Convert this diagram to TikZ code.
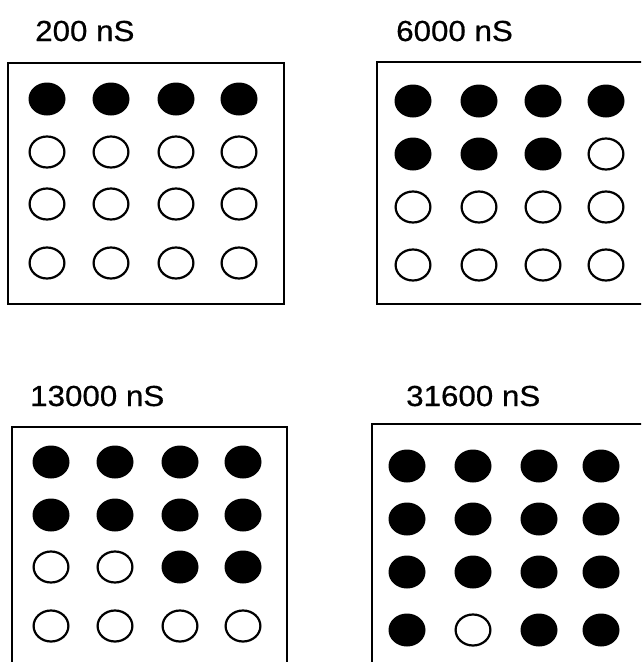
\documentclass[tikz,border=0pt]{standalone}
\usepackage{fontspec}
\setmainfont{Liberation Sans}
\newfontfamily\lblfont[FakeStretch=1.08,FakeBold=0.6]{Liberation Sans}
\usetikzlibrary{shapes.geometric}
\tikzset{
  full/.style={ellipse, fill=black, draw=none, minimum width=37pt, minimum height=33pt, inner sep=0pt},
  empty/.style={ellipse, draw=black, line width=2.2pt, fill=white, minimum width=34.8pt, minimum height=31pt, inner sep=0pt},
  panel/.style={draw=black, line width=2pt},
  lbl/.style={anchor=base west, inner sep=0pt, font=\lblfont\fontsize{29}{29}\selectfont}
}
\begin{document}
\begin{tikzpicture}[x=1pt,y=-1pt]
\useasboundingbox (0,0) rectangle (641,662);
\clip (0,0) rectangle (641,662);
\fill[white] (0,0) rectangle (641,662);

% panel 1
\node[lbl] (l1) at (35,41) {200 nS};
\draw[panel] (8,63) rectangle (284,304);
\foreach \xx/\t [count=\c] in {47/full,111/full,176/full,239/full} \node[\t] (a1\c) at (\xx,99) {};
\foreach \xx/\t [count=\c] in {47/empty,111/empty,176/empty,239/empty} \node[\t] (a2\c) at (\xx,152) {};
\foreach \xx/\t [count=\c] in {47/empty,111/empty,176/empty,239/empty} \node[\t] (a3\c) at (\xx,204) {};
\foreach \xx/\t [count=\c] in {47/empty,111/empty,176/empty,239/empty} \node[\t] (a4\c) at (\xx,263) {};

% panel 2
\node[lbl] (l2) at (396,41) {6000 nS};
\draw[panel] (377,62) rectangle (660,304);
\foreach \xx/\t [count=\c] in {413/full,479/full,543/full,606/full} \node[\t] (b1\c) at (\xx,101) {};
\foreach \xx/\t [count=\c] in {413/full,479/full,543/full,606/empty} \node[\t] (b2\c) at (\xx,154) {};
\foreach \xx/\t [count=\c] in {413/empty,479/empty,543/empty,606/empty} \node[\t] (b3\c) at (\xx,207) {};
\foreach \xx/\t [count=\c] in {413/empty,479/empty,543/empty,606/empty} \node[\t] (b4\c) at (\xx,265) {};

% panel 3
\node[lbl] (l3) at (30,406) {13000 nS};
\draw[panel] (12,427) rectangle (287,690);
\foreach \xx/\t [count=\c] in {51/full,115/full,180/full,243/full} \node[\t] (c1\c) at (\xx,462) {};
\foreach \xx/\t [count=\c] in {51/full,115/full,180/full,243/full} \node[\t] (c2\c) at (\xx,515) {};
\foreach \xx/\t [count=\c] in {51/empty,115/empty,180/full,243/full} \node[\t] (c3\c) at (\xx,567) {};
\foreach \xx/\t [count=\c] in {51/empty,115/empty,180/empty,243/empty} \node[\t] (c4\c) at (\xx,626) {};

% panel 4
\node[lbl] (l4) at (406,406) {31600 nS};
\draw[panel] (372,424) rectangle (660,690);
\foreach \xx/\t [count=\c] in {407/full,473/full,539/full,601/full} \node[\t] (d1\c) at (\xx,466) {};
\foreach \xx/\t [count=\c] in {407/full,473/full,539/full,601/full} \node[\t] (d2\c) at (\xx,519) {};
\foreach \xx/\t [count=\c] in {407/full,473/full,539/full,601/full} \node[\t] (d3\c) at (\xx,572) {};
\foreach \xx/\t [count=\c] in {407/full,473/empty,539/full,601/full} \node[\t] (d4\c) at (\xx,630) {};
\end{tikzpicture}
\end{document}
